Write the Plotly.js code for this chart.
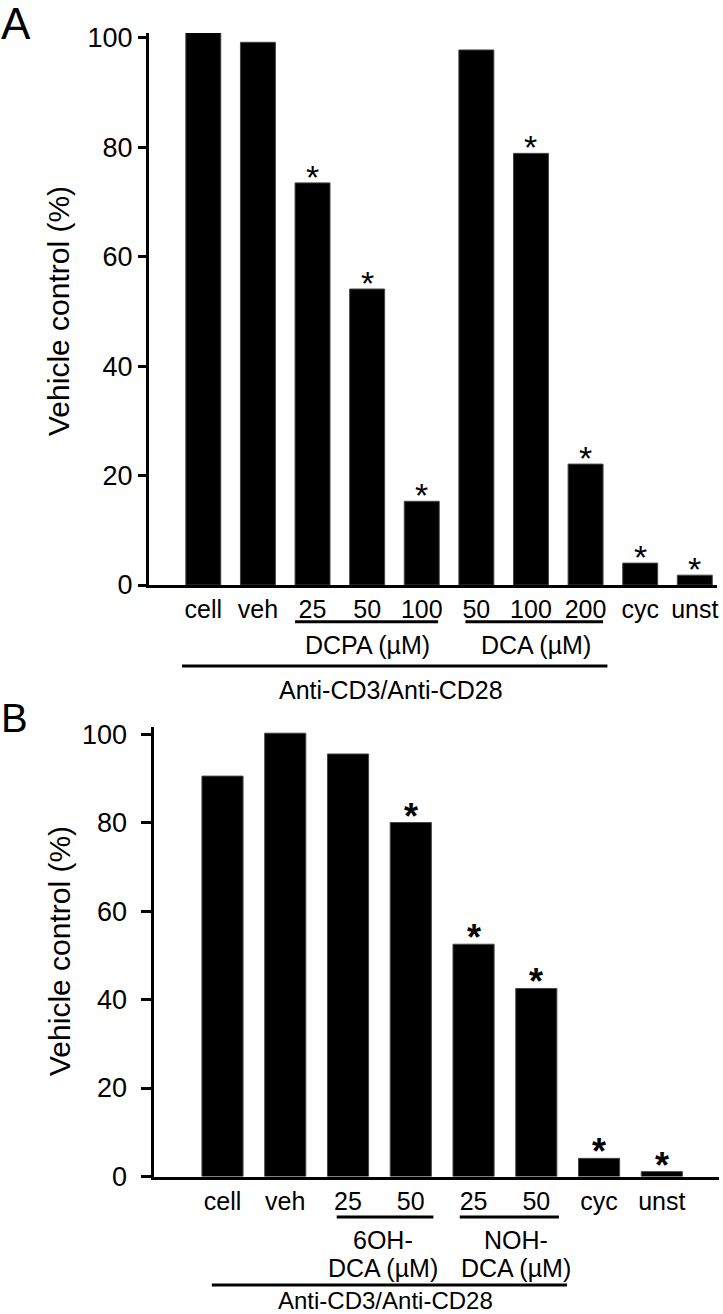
<!DOCTYPE html>
<html>
<head>
<meta charset="utf-8">
<script src="https://cdn.plot.ly/plotly-3.0.1.min.js"></script>
<style>html,body{margin:0;padding:0;background:#fff}#chart{width:723px;height:1314px}</style>
</head>
<body>
<div id="chart"></div>
<script>
// ---------- data ----------
const categoriesA = ["cell", "veh", "DCPA 25", "DCPA 50", "DCPA 100", "DCA 50", "DCA 100", "DCA 200", "cyc", "unst"];
const tickLabelsA = ["cell", "veh", "25", "50", "100", "50", "100", "200", "cyc", "unst"];
const valuesA = [101.5, 99.2, 73.5, 54.1, 15.3, 97.8, 78.9, 22.1, 4.0, 1.8];
const significantA = [false, false, true, true, true, false, true, true, true, true];
const groupLabelsA = ["DCPA (µM)", "DCA (µM)"];

const categoriesB = ["cell", "veh", "6OH-DCA 25", "6OH-DCA 50", "NOH-DCA 25", "NOH-DCA 50", "cyc", "unst"];
const tickLabelsB = ["cell", "veh", "25", "50", "25", "50", "cyc", "unst"];
const valuesB = [90.5, 100.2, 95.5, 80.0, 52.5, 42.5, 4.1, 1.1];
const significantB = [false, false, false, true, true, true, true, true];
const groupLabelsB = [["6OH-", "DCA (µM)"], ["NOH-", "DCA (µM)"]];

const treatmentLabel = "Anti-CD3/Anti-CD28";
const yTickVals = [0, 20, 40, 60, 80, 100];
const yTitle = "Vehicle control (%)";
const panelLabels = ["A", "B"];

// ---------- helpers ----------
const W = 723, H = 1314;
const FONT = "Liberation Sans, Arial, Helvetica, sans-serif";
const px = x => x / W;
const py = y => 1 - y / H;
const xA = categoriesA.map((_, i) => i);
const xB = categoriesB.map((_, i) => i);

const traces = [
  {type: "bar", x: xA, y: valuesA, xaxis: "x", yaxis: "y", width: 0.64, cliponaxis: false,
   marker: {color: "#000", line: {color: "#444", width: 1}}, hoverinfo: "skip", text: categoriesA},
  {type: "bar", x: xB, y: valuesB, xaxis: "x2", yaxis: "y2", width: 0.655, cliponaxis: false,
   marker: {color: "#000", line: {color: "#444", width: 1}}, hoverinfo: "skip", text: categoriesB}
];
traces.forEach(t => { t.textposition = "none"; });

const axisCommon = {showline: true, linecolor: "#000", linewidth: 3, showgrid: false, zeroline: false, fixedrange: true};

const annotations = [];
const shapes = [];

// significance asterisks
xA.forEach(i => { if (significantA[i]) annotations.push({xref: "x", yref: "y", x: i, y: valuesA[i], text: "*", showarrow: false,
  yanchor: "bottom", yshift: -15, font: {family: FONT, size: 34, color: "#000"}}); });
xB.forEach(i => { if (significantB[i]) annotations.push({xref: "x2", yref: "y2", x: i, y: valuesB[i], text: "<b>*</b>", showarrow: false,
  yanchor: "bottom", yshift: -16, font: {family: FONT, size: 36, color: "#000"}}); });

// panel letters
annotations.push({xref: "paper", yref: "paper", x: 0, y: py(-2), xanchor: "left", yanchor: "top", text: panelLabels[0], showarrow: false,
  font: {family: FONT, size: 44, color: "#000"}, borderpad: 0});
annotations.push({xref: "paper", yref: "paper", x: 0, y: py(695), xanchor: "left", yanchor: "top", text: panelLabels[1], showarrow: false,
  font: {family: FONT, size: 40, color: "#000"}, borderpad: 0});

// y titles
[311, 951].forEach(cy => annotations.push({xref: "paper", yref: "paper", x: px(59), y: py(cy), xanchor: "center", yanchor: "middle",
  textangle: -90, text: yTitle, showarrow: false, font: {family: FONT, size: 30, color: "#000"}}));

const lbl = (xref, x, y, text, size) => ({xref: xref, yref: "paper", x: x, y: py(y), xanchor: "center", yanchor: "middle",
  text: text, showarrow: false, font: {family: FONT, size: size || 25, color: "#000"}, borderpad: 0});
const hline = (xref, x0, x1, y) => ({type: "line", xref: xref, yref: "paper", x0: x0, x1: x1, y0: py(y), y1: py(y),
  line: {color: "#000", width: 3}});

// panel A group marks
shapes.push(hline("x", 1.68, 4.30, 621.7));
shapes.push(hline("x", 4.80, 7.32, 621.7));
shapes.push(hline("x", -0.39, 7.40, 666));
annotations.push(lbl("x", 3.0, 645, groupLabelsA[0]));
annotations.push(lbl("x", 6.09, 645, groupLabelsA[1]));
annotations.push(lbl("x", 3.44, 690, treatmentLabel));

// panel B group marks
shapes.push(hline("x2", 1.82, 3.36, 1217));
shapes.push(hline("x2", 3.78, 5.36, 1217));
shapes.push(hline("x2", -0.17, 5.49, 1285));
annotations.push(lbl("x2", 2.55, 1240, groupLabelsB[0][0]));
annotations.push(lbl("x2", 2.55, 1268, groupLabelsB[0][1]));
annotations.push(lbl("x2", 4.68, 1240, groupLabelsB[1][0]));
annotations.push(lbl("x2", 4.68, 1268, groupLabelsB[1][1]));
annotations.push(lbl("x2", 2.6, 1300, treatmentLabel, 24));

const layout = {
  width: W, height: H, margin: {l: 0, r: 0, t: 0, b: 0}, showlegend: false,
  paper_bgcolor: "#fff", plot_bgcolor: "#fff",
  xaxis: Object.assign({}, axisCommon, {domain: [px(149), px(717)], range: [-0.9945, 9.4066], anchor: "y",
    tickmode: "array", tickvals: xA, ticktext: tickLabelsA, ticks: "", tickfont: {family: FONT, size: 25, color: "#000"}}),
  yaxis: Object.assign({}, axisCommon, {domain: [py(585), py(33)], range: [0, 100.9], anchor: "x",
    tickmode: "array", tickvals: yTickVals, ticks: "outside", ticklen: 8, tickwidth: 3, tickcolor: "#000",
    tickfont: {family: FONT, size: 27, color: "#000"}}),
  xaxis2: Object.assign({}, axisCommon, {domain: [px(153.5), px(719)], range: [-1.0994, 7.911], anchor: "y2",
    tickmode: "array", tickvals: xB, ticktext: tickLabelsB, ticks: "", tickfont: {family: FONT, size: 25, color: "#000"}}),
  yaxis2: Object.assign({}, axisCommon, {domain: [py(1176.5), py(727)], range: [0, 101.6], anchor: "x2",
    tickmode: "array", tickvals: yTickVals, ticks: "outside", ticklen: 10, tickwidth: 3, tickcolor: "#000",
    ticklabelstandoff: 8, tickfont: {family: FONT, size: 27, color: "#000"}}),
  annotations: annotations,
  shapes: shapes
};

Plotly.newPlot("chart", traces, layout, {staticPlot: true, displayModeBar: false});
</script>
</body>
</html>
